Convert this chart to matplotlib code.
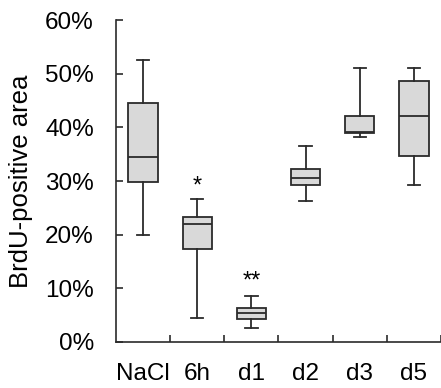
import matplotlib
matplotlib.use('Agg')
import matplotlib.pyplot as plt
from matplotlib.ticker import PercentFormatter

# ---------- data (fractions) ---------- #
groups = ['NaCl', '6h', 'd1', 'd2', 'd3', 'd5']
whislo = [0.199, 0.045, 0.025, 0.263, 0.383, 0.292]
q1 = [0.298, 0.174, 0.0435, 0.293, 0.390, 0.346]
med = [0.344, 0.219, 0.053, 0.305, 0.391, 0.421]
q3 = [0.446, 0.233, 0.064, 0.322, 0.422, 0.487]
whishi = [0.525, 0.266, 0.086, 0.366, 0.510, 0.511]
marks = ['', '*', '**', '', '', '']
markY = [None, 0.29, 0.113, None, None, None]

plt.rcParams['font.family'] = ['Liberation Sans', 'DejaVu Sans']

stats = []
for i in range(len(groups)):
    stats.append({'whislo': whislo[i], 'q1': q1[i], 'med': med[i],
                  'q3': q3[i], 'whishi': whishi[i], 'fliers': []})

fig = plt.figure(figsize=(4.41, 3.88), dpi=100)
ax = fig.add_axes([0.263, 0.119, 0.737, 0.829])

edge = '#2b2b2b'
ax.bxp(stats, positions=range(1, 7), widths=0.54, patch_artist=True,
       showfliers=False,
       boxprops=dict(facecolor='#d9d9d9', edgecolor=edge, linewidth=1.3),
       medianprops=dict(color=edge, linewidth=1.3),
       whiskerprops=dict(color=edge, linewidth=1.3),
       capprops=dict(color=edge, linewidth=1.3),
       capwidths=0.23)

for i, m in enumerate(marks):
    if m:
        ax.text(i + 1, markY[i], m, ha='center', va='center', fontsize=17)

ax.set_xlim(0.5, 6.5)
ax.set_ylim(0, 0.6)
ax.yaxis.set_major_formatter(PercentFormatter(1.0, decimals=0))
ax.set_yticks([0, 0.1, 0.2, 0.3, 0.4, 0.5, 0.6])
ax.set_ylabel('BrdU-positive area', fontsize=18.5, labelpad=9)

# labels at the centres, ticks at the group boundaries
ax.set_xticks(range(1, 7))
ax.set_xticklabels(groups)
ax.set_xticks([1.5, 2.5, 3.5, 4.5, 5.5, 6.5], minor=True)
ax.tick_params(axis='x', which='major', length=0, pad=15, labelsize=17.5)
ax.tick_params(axis='x', which='minor', direction='in', length=5,
               width=1.2, color=edge)
ax.tick_params(axis='y', direction='in', length=5, width=1.2, color=edge,
               pad=16, labelsize=17.5)

for s in ['top', 'right']:
    ax.spines[s].set_visible(False)
for s in ['left', 'bottom']:
    ax.spines[s].set_linewidth(1.2)
    ax.spines[s].set_color(edge)

fig.savefig('out.png', dpi=100)
